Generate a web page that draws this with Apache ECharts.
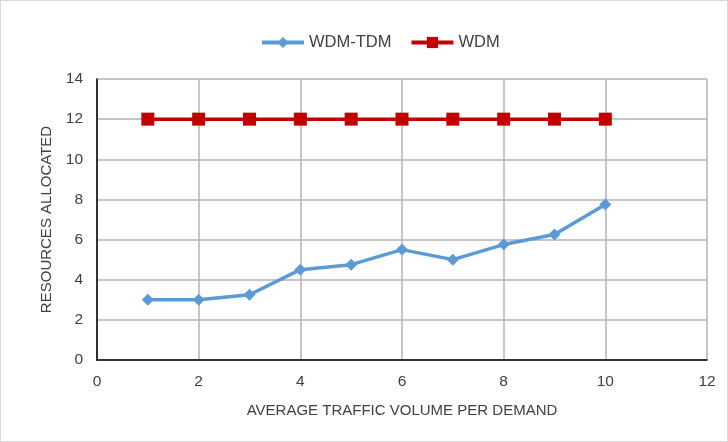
<!DOCTYPE html>
<html>
<head>
    <meta charset="UTF-8">
    <title>Resources allocated</title>
    <script src="https://cdn.jsdelivr.net/npm/echarts@6/dist/echarts.min.js"></script>
    <style>
        html, body { margin: 0; padding: 0; background: #fff; }
        #chart { width: 726px; height: 440px; border: 1px solid #d9d9d9; }
    </style>
</head>
<body>
<div id="chart"></div>
<script type="text/javascript">
    // traffic volume per demand (x) and resources allocated (y)
    const traffic = [1, 2, 3, 4, 5, 6, 7, 8, 9, 10];
    const wdmTdm = [3, 3, 3.25, 4.5, 4.75, 5.5, 5, 5.75, 6.25, 7.75];
    const wdm = [12, 12, 12, 12, 12, 12, 12, 12, 12, 12];

    const font = 'Liberation Sans, Arial, sans-serif';
    let chart = echarts.init(document.getElementById('chart'));

    let option = {
        animation: false,
        textStyle: { fontFamily: font },
        legend: {
            top: 28,
            left: 254,
            itemGap: 18,
            itemWidth: 42,
            itemHeight: 14,
            lineStyle: { width: 4 },
            textStyle: { fontSize: 16.5, color: '#404040', fontFamily: font },
            data: ['WDM-TDM', 'WDM']
        },
        grid: { left: 96, right: 20, top: 78, bottom: 81 },
        xAxis: {
            type: 'value',
            min: 0, max: 12, interval: 2,
            name: 'AVERAGE TRAFFIC VOLUME PER DEMAND',
            nameLocation: 'middle',
            nameGap: 43,
            nameTextStyle: { fontSize: 15, color: '#404040' },
            axisLine: { lineStyle: { color: '#000', width: 1.5 } },
            axisTick: { show: false },
            axisLabel: { fontSize: 15.5, color: '#404040', margin: 14 },
            splitLine: { lineStyle: { color: '#b3b3b3', width: 1.5 } }
        },
        yAxis: {
            type: 'value',
            min: 0, max: 14, interval: 2,
            name: 'RESOURCES ALLOCATED',
            nameLocation: 'middle',
            nameGap: 42,
            nameTextStyle: { fontSize: 15, color: '#404040' },
            axisLine: { show: true, lineStyle: { color: '#000', width: 1.5 } },
            axisTick: { show: false },
            axisLabel: { fontSize: 15.5, color: '#404040', margin: 14 },
            splitLine: { lineStyle: { color: '#b3b3b3', width: 1.5 } }
        },
        series: [
            {
                name: 'WDM-TDM',
                type: 'line',
                data: traffic.map((x, i) => [x, wdmTdm[i]]),
                symbol: 'diamond',
                symbolSize: 12,
                lineStyle: { color: '#5b9bd5', width: 3.5 },
                itemStyle: { color: '#5b9bd5' }
            },
            {
                name: 'WDM',
                type: 'line',
                data: traffic.map((x, i) => [x, wdm[i]]),
                symbol: 'rect',
                symbolSize: 13,
                lineStyle: { color: '#c00000', width: 3.5 },
                itemStyle: { color: '#c00000' }
            }
        ]
    };
    chart.setOption(option);
</script>
</body>
</html>
